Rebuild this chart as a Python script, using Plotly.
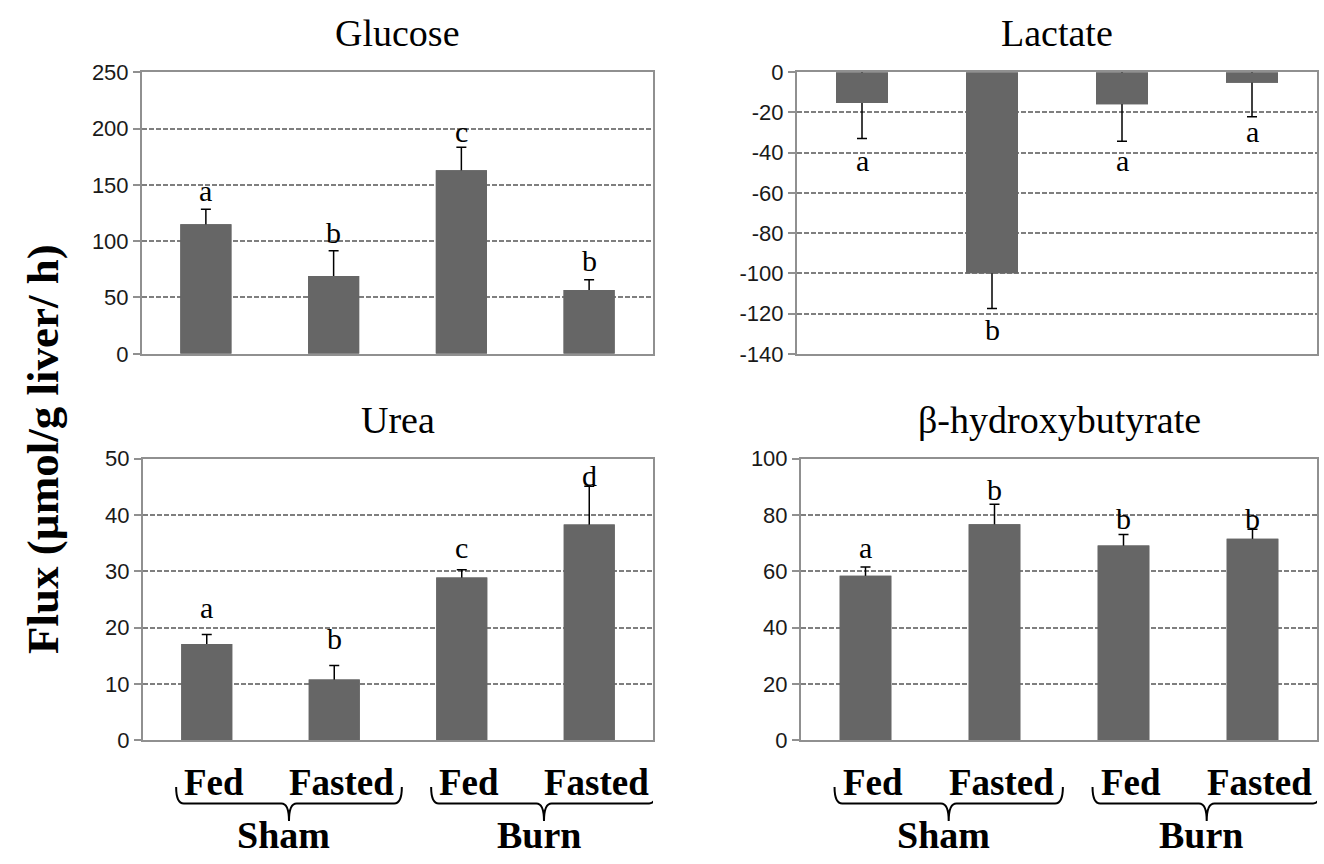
import plotly.graph_objects as go

# ---------------- data ----------------
groups = ["Sham", "Burn"]
conditions = ["Fed", "Fasted", "Fed", "Fasted"]
group_members = [[0, 1], [2, 3]]

glucose_mean = [115.0, 69.0, 163.0, 56.6]
glucose_err = [13.4, 22.4, 20.3, 9.2]
glucose_letters = ["a", "b", "c", "b"]
glucose_letter_y = [145, 108, 197, 82.5]

lactate_mean = [-15.3, -100.0, -15.9, -5.3]
lactate_err = [17.7, 17.5, 18.4, 16.9]
lactate_letters = ["a", "b", "a", "a"]
lactate_letter_y = [-43.9, -128, -44, -29.5]

urea_mean = [17.1, 10.8, 28.9, 38.3]
urea_err = [1.7, 2.5, 1.4, 6.8]
urea_letters = ["a", "b", "c", "d"]
urea_letter_y = [23.6, 18.1, 34.2, 47.1]

bhb_mean = [58.4, 76.7, 69.2, 71.6]
bhb_err = [3.1, 7.1, 3.9, 3.3]
bhb_letters = ["a", "b", "b", "b"]
bhb_letter_y = [68.4, 89.0, 78.7, 78.7]

glucose_ticks = [0, 50, 100, 150, 200, 250]
lactate_ticks = [0, -20, -40, -60, -80, -100, -120, -140]
urea_ticks = [0, 10, 20, 30, 40, 50]
bhb_ticks = [0, 20, 40, 60, 80, 100]

titles = ["Glucose", "Lactate", "Urea", "\u03b2-hydroxybutyrate"]
y_title = "Flux (\u00b5mol/g liver/ h)"

# ---------------- styling ----------------
W, H = 1324, 864
BAR = "#666666"
LINE = "#909090"
GRID = "#7f7f7f"
SERIF = "Liberation Serif, Times New Roman, serif"
SANS = "Liberation Sans, Arial, sans-serif"

def px_x(a, b):
    return [a / W, b / W]

def px_y(top, bottom):
    return [1 - bottom / H, 1 - top / H]

panels = [
    dict(mean=glucose_mean, err=glucose_err, letters=glucose_letters, ly=glucose_letter_y,
         ticks=glucose_ticks, xd=px_x(142, 653), yd=px_y(62, 352), ty=22),
    dict(mean=lactate_mean, err=lactate_err, letters=lactate_letters, ly=lactate_letter_y,
         ticks=lactate_ticks, xd=px_x(797, 1317), yd=px_y(62, 352), ty=22),
    dict(mean=urea_mean, err=urea_err, letters=urea_letters, ly=urea_letter_y,
         ticks=urea_ticks, xd=px_x(143, 653), yd=px_y(460, 750), ty=420),
    dict(mean=bhb_mean, err=bhb_err, letters=bhb_letters, ly=bhb_letter_y,
         ticks=bhb_ticks, xd=px_x(801, 1317), yd=px_y(460, 750), ty=420),
]

fig = go.Figure()
annotations = []
shapes = []
xpos = list(range(len(conditions)))

for i, p in enumerate(panels):
    n = "" if i == 0 else str(i + 1)
    # error bars drawn symmetric on an underlying bar; an identical bar on top
    # hides the half that lies inside the bar, leaving a one-sided error bar
    ey = dict(type="data", array=p["err"], color="black", thickness=1.5, width=5)
    fig.add_trace(go.Bar(x=xpos, y=p["mean"], error_y=ey, marker=dict(color=BAR, line=dict(width=0)),
                         width=0.4, xaxis="x" + n, yaxis="y" + n, showlegend=False, hoverinfo="skip"))
    fig.add_trace(go.Bar(x=xpos, y=p["mean"], marker=dict(color=BAR, line=dict(width=0)),
                         width=0.4, xaxis="x" + n, yaxis="y" + n, showlegend=False, hoverinfo="skip"))
    ticks = p["ticks"]
    fig.layout["xaxis" + n] = dict(domain=p["xd"], anchor="y" + n, range=[-0.5, 3.5],
                                   showline=True, mirror=True, linecolor=LINE, linewidth=2,
                                   showticklabels=False, showgrid=False, zeroline=False, ticks="")
    fig.layout["yaxis" + n] = dict(domain=p["yd"], anchor="x" + n, range=[min(ticks), max(ticks)],
                                   tickvals=ticks, ticktext=[str(t) for t in ticks],
                                   showline=True, mirror=True, linecolor=LINE, linewidth=2,
                                   ticks="outside", ticklen=7, tickcolor=LINE, tickwidth=1.5,
                                   showgrid=True, gridcolor=GRID, gridwidth=1.5, griddash="5px,2px",
                                   zeroline=False,
                                   tickfont=dict(family=SANS, size=22, color="#1a1a1a"))
    for k, (lt, yv) in enumerate(zip(p["letters"], p["ly"])):
        annotations.append(dict(x=xpos[k], y=yv, xref="x" + n, yref="y" + n, text=lt,
                                showarrow=False, xanchor="center", yanchor="middle",
                                font=dict(family=SERIF, size=30, color="black")))
    annotations.append(dict(x=sum(p["xd"]) / 2, y=1 - p["ty"] / H, xref="paper", yref="paper",
                            text=titles[i], showarrow=False, xanchor="center", yanchor="middle",
                            font=dict(family=SERIF, size=38, color="black")))

# bottom category labels and braces (bottom panels only)
for n in ["3", "4"]:
    for k, c in enumerate(conditions):
        annotations.append(dict(x=xpos[k], y=1 - 793 / H, xref="x" + n, yref="paper", text="<b>%s</b>" % c,
                                xshift=7, showarrow=False, xanchor="center", yanchor="middle",
                                font=dict(family=SERIF, size=37, color="black")))
    for g, members in zip(groups, group_members):
        mid = (xpos[members[0]] + xpos[members[-1]]) / 2
        annotations.append(dict(x=mid, y=1 - 848 / H, xref="x" + n, yref="paper", text="<b>%s</b>" % g,
                                xshift=13, showarrow=False, xanchor="center", yanchor="middle",
                                font=dict(family=SERIF, size=38, color="black")))
        x0 = xpos[members[0]] - 0.24
        x1 = xpos[members[-1]] + 0.53
        tip = (x0 + x1) / 2
        yt, ym, yb = 1 - 798 / H, 1 - 815 / H, 1 - 833 / H
        d = 0.06
        path = (f"M {x0},{yt} Q {x0},{ym} {x0 + d},{ym} L {tip - d},{ym} Q {tip},{ym} {tip},{yb} "
                f"Q {tip},{ym} {tip + d},{ym} L {x1 - d},{ym} Q {x1},{ym} {x1},{yt}")
        shapes.append(dict(type="path", path=path, xref="x" + n, yref="paper",
                           line=dict(color="black", width=2)))

annotations.append(dict(x=43 / W, y=1 - 450 / H, xref="paper", yref="paper", text="<b>%s</b>" % y_title,
                        textangle=-90, showarrow=False, xanchor="center", yanchor="middle",
                        font=dict(family=SERIF, size=45, color="black")))

fig.update_layout(width=W, height=H, margin=dict(l=0, r=0, t=0, b=0),
                  paper_bgcolor="white", plot_bgcolor="white",
                  annotations=annotations, shapes=shapes, barmode="overlay")

fig.write_html("out.html")
